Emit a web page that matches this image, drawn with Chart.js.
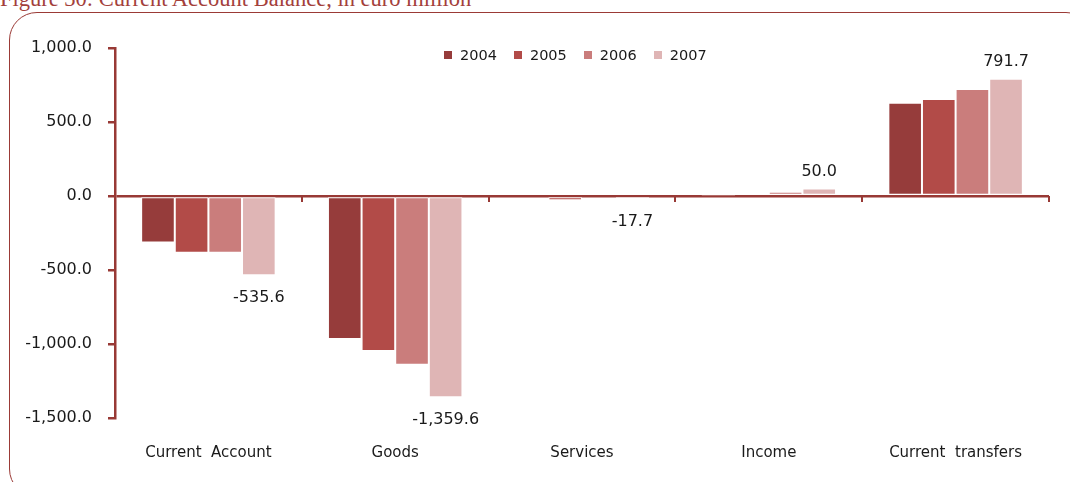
<!DOCTYPE html>
<html>
<head>
<meta charset="utf-8">
<script src="https://cdn.jsdelivr.net/npm/chart.js@4/dist/chart.umd.min.js"></script>
<style>
    html, body { margin: 0; padding: 0; background: #fff; }
    #wrap { position: relative; width: 1070px; height: 482px; overflow: hidden; }
    #title {
        position: absolute; left: 0; top: -13px; white-space: nowrap;
        font-family: "Liberation Serif", serif; font-size: 22.5px; line-height: 24px; color: #a3403b;
    }
    #frame {
        position: absolute; left: 9px; top: 12px; width: 1085px; height: 485px;
        border: 1.6px solid #9b3a36; border-radius: 28px; box-sizing: border-box;
    }
    #legend {
        position: absolute; left: 444px; top: 46px; display: flex;
        font-family: "DejaVu Sans", sans-serif; font-size: 14.5px; line-height: 18px; color: #1a1a1a;
    }
    #legend span.item { display: flex; align-items: center; margin-right: 17px; }
    #legend span.box { display: inline-block; width: 8px; height: 8px; margin-right: 8px; }
    canvas { position: absolute; left: 0; top: 0; }
</style>
</head>
<body>
<div id="wrap">
    <div id="title">Figure 30: Current Account Balance, in euro million</div>
    <div id="frame"></div>
    <canvas id="balance" width="1070" height="482"></canvas>
    <div id="legend"></div>
</div>
<script>
'use strict'

var categories = ['Current  Account', 'Goods', 'Services', 'Income', 'Current  transfers'];
var years = ['2004', '2005', '2006', '2007'];

var values2004 = [-315, -966, -8, 3, 630];
var values2005 = [-383, -1047, -28, 6, 655];
var values2006 = [-383, -1140, -10, 28, 723];
var values2007 = [-535.6, -1359.6, -17.7, 50.0, 791.7];

var yTicks = [-1500, -1000, -500, 0, 500, 1000];

var barColors = ['#963c3b', '#b24b48', '#ca7d7c', '#dfb5b5'];
var axisColor = '#983935';
var textColor = '#1a1a1a';

function fmt(v) {
    return v.toLocaleString('en-US', { minimumFractionDigits: 1, maximumFractionDigits: 1 });
}

// value labels on the last series, above or below the bar end
var valueLabels = {
    id: 'valueLabels',
    afterDatasetsDraw: function (chart) {
        var ctx = chart.ctx;
        var meta = chart.getDatasetMeta(3);
        var data = chart.data.datasets[3].data;
        ctx.save();
        ctx.font = '16px "DejaVu Sans"';
        ctx.fillStyle = textColor;
        ctx.textAlign = 'center';
        ctx.textBaseline = 'middle';
        meta.data.forEach(function (bar, i) {
            var v = data[i];
            var y = v >= 0 ? bar.y - 17 : bar.y + 23;
            ctx.fillText(fmt(v), bar.x, y);
        });
        ctx.restore();
    }
};

// small tick marks at category boundaries on the zero line
var zeroTicks = {
    id: 'zeroTicks',
    afterDraw: function (chart) {
        var ctx = chart.ctx;
        var xs = chart.scales.x;
        var y0 = chart.scales.y.getPixelForValue(0);
        var step = xs.width / categories.length;
        ctx.save();
        ctx.strokeStyle = axisColor;
        ctx.lineWidth = 2;
        for (let i = 1; i <= categories.length; i++) {
            var x = Math.round(xs.left + i * step);
            ctx.beginPath();
            ctx.moveTo(x, y0);
            ctx.lineTo(x, y0 + 6);
            ctx.stroke();
        }
        ctx.restore();
    }
};

var seriesValues = [values2004, values2005, values2006, values2007];

var chartConfig = {
    type: 'bar',
    data: {
        labels: categories,
        datasets: years.map(function (yr, i) {
            return {
                label: yr,
                data: seriesValues[i],
                backgroundColor: barColors[i],
                borderColor: '#ffffff',
                borderWidth: 1,
                borderSkipped: false,
                barPercentage: 1,
                categoryPercentage: 0.72,
            };
        })
    },
    options: {
        responsive: false,
        animation: false,
        layout: {
            padding: { left: 0, right: 21, top: 48, bottom: 0 }
        },
        plugins: {
            legend: { display: false },
            tooltip: { enabled: false }
        },
        scales: {
            x: {
                grid: { display: false },
                border: { display: false },
                ticks: {
                    color: textColor,
                    padding: 18,
                    font: { family: 'DejaVu Sans', size: 15 },
                    maxRotation: 0,
                    autoSkip: false,
                },
                afterFit: function (scale) {
                    scale.height = 64;
                }
            },
            y: {
                min: -1500,
                max: 1000,
                afterBuildTicks: function (scale) {
                    scale.ticks = yTicks.map(function (v) { return { value: v }; });
                },
                grid: {
                    drawOnChartArea: true,
                    color: function (c) {
                        return c.tick && c.tick.value === 0 ? axisColor : 'rgba(0,0,0,0)';
                    },
                    tickColor: axisColor,
                    tickLength: 7,
                    lineWidth: 2.5,
                },
                border: {
                    color: axisColor,
                    width: 2.5,
                },
                ticks: {
                    color: textColor,
                    padding: 16,
                    font: { family: 'DejaVu Sans', size: 16 },
                    callback: function (v) { return fmt(v); }
                },
                afterFit: function (scale) {
                    scale.width = 115;
                }
            }
        }
    },
    plugins: [valueLabels, zeroTicks]
};

var chart_balance = new Chart(document.getElementById('balance'), chartConfig);

// legend row built from the series names and colours
var legendEl = document.getElementById('legend');
years.forEach(function (yr, i) {
    var item = document.createElement('span');
    item.className = 'item';
    var box = document.createElement('span');
    box.className = 'box';
    box.style.background = barColors[i];
    item.appendChild(box);
    item.appendChild(document.createTextNode(yr));
    legendEl.appendChild(item);
});
</script>
</body>
</html>
